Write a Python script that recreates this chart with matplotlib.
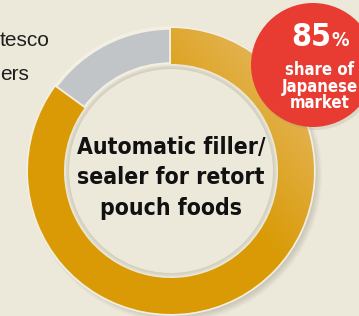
#!/usr/bin/env python3
# -*- coding: utf-8 -*-
import matplotlib
matplotlib.use('Agg')
import matplotlib.pyplot as plt
from matplotlib.patches import Circle
import numpy as np

# data
labels = ['Others', 'Our filler/sealer']
shares = [15, 85]
slice_colors = ['#C1C5C7', '#D99A05']
share_text = '85'
badge_lines = ['share of', 'Japanese', 'market']
center_lines = ['Automatic filler/', 'sealer for retort', 'pouch foods']
side_lines = ['tesco', 'ers']

bg = '#ECE9DA'
W, H = 359, 316

# condensed bold, closest to the narrow headline face
nf = dict(family='DejaVu Sans', stretch='condensed', weight='bold')

fig = plt.figure(figsize=(W / 100, H / 100), dpi=100)
fig.patch.set_facecolor(bg)
ax = fig.add_axes([0, 0, 1, 1])
ax.set_xlim(0, W)
ax.set_ylim(0, H)
ax.set_aspect('equal')
ax.axis('off')

cx, cy = 171, H - 171
R, ring = 143, 36

# soft drop shadow under the ring
for k in range(8):
    ax.add_patch(Circle((cx + 4, cy - 4), R + 4 - k, color='#8E8B7E',
                        alpha=0.05, lw=0, zorder=1))
ax.add_patch(Circle((cx, cy), R, color=bg, lw=0, zorder=1.5))

wedges, _ = ax.pie(shares, colors=slice_colors, startangle=90,
                   counterclock=True, center=(cx, cy), radius=R,
                   wedgeprops=dict(width=ring, edgecolor='#F3EFE2', linewidth=2.5))
for w in wedges:
    w.set_zorder(2)

# lighter sheen on the gold ring towards the upper right
yy, xx = np.mgrid[0:H, 0:W]
t = ((xx - cx) * 0.75 + (yy - cy) * 0.65) / R
t = np.clip((t - 0.15) / 0.8, 0, 1)
base = np.array(matplotlib.colors.to_rgb('#D99A05'))
light = np.array(matplotlib.colors.to_rgb('#E3B24E'))
img = base[None, None, :] * (1 - t[..., None]) + light[None, None, :] * t[..., None]
im = ax.imshow(img, extent=[0, W, 0, H], origin='lower', zorder=2.5,
               interpolation='bilinear')
im.set_clip_path(wedges[1])
ax.set_xlim(0, W)
ax.set_ylim(0, H)

# inner shadow in the hole
r_in = R - ring
for k in range(6):
    ax.add_patch(Circle((cx, cy), r_in - k, color='#A9A594',
                        alpha=0.08, lw=0, zorder=3))
ax.add_patch(Circle((cx, cy), r_in - 5, color=bg, lw=0, zorder=3.5))

for i, line in enumerate(center_lines):
    ax.text(cx, H - 147 - i * 30.5, line, ha='center', va='center',
            fontsize=16.5, color='#111111', zorder=5, **nf)

# left text (continues beyond the left frame in the source)
for i, line in enumerate(side_lines):
    ax.text(0, H - 40 - i * 34, line, ha='left', va='center', fontsize=15,
            family=['Liberation Sans', 'DejaVu Sans'], color='#1E1E1E', zorder=5)

# red badge
bx, by = 313, H - 65
ax.add_patch(Circle((bx + 2, by - 2), 63, color='#9C9683', alpha=0.2, lw=0, zorder=6))
ax.add_patch(Circle((bx, by), 62, color='#E83C32', lw=0, zorder=7))
ax.text(331, H - 38, share_text, ha='right', va='center', fontsize=23,
        color='white', zorder=8, **nf)
ax.text(332, H - 41, '%', ha='left', va='center', fontsize=14,
        color='white', zorder=8, **nf)
for i, line in enumerate(badge_lines):
    ax.text(320, H - 70 - i * 16.5, line, ha='center', va='center', fontsize=12,
            color='white', zorder=8, **nf)

fig.savefig('out.png', dpi=100, facecolor=bg)
